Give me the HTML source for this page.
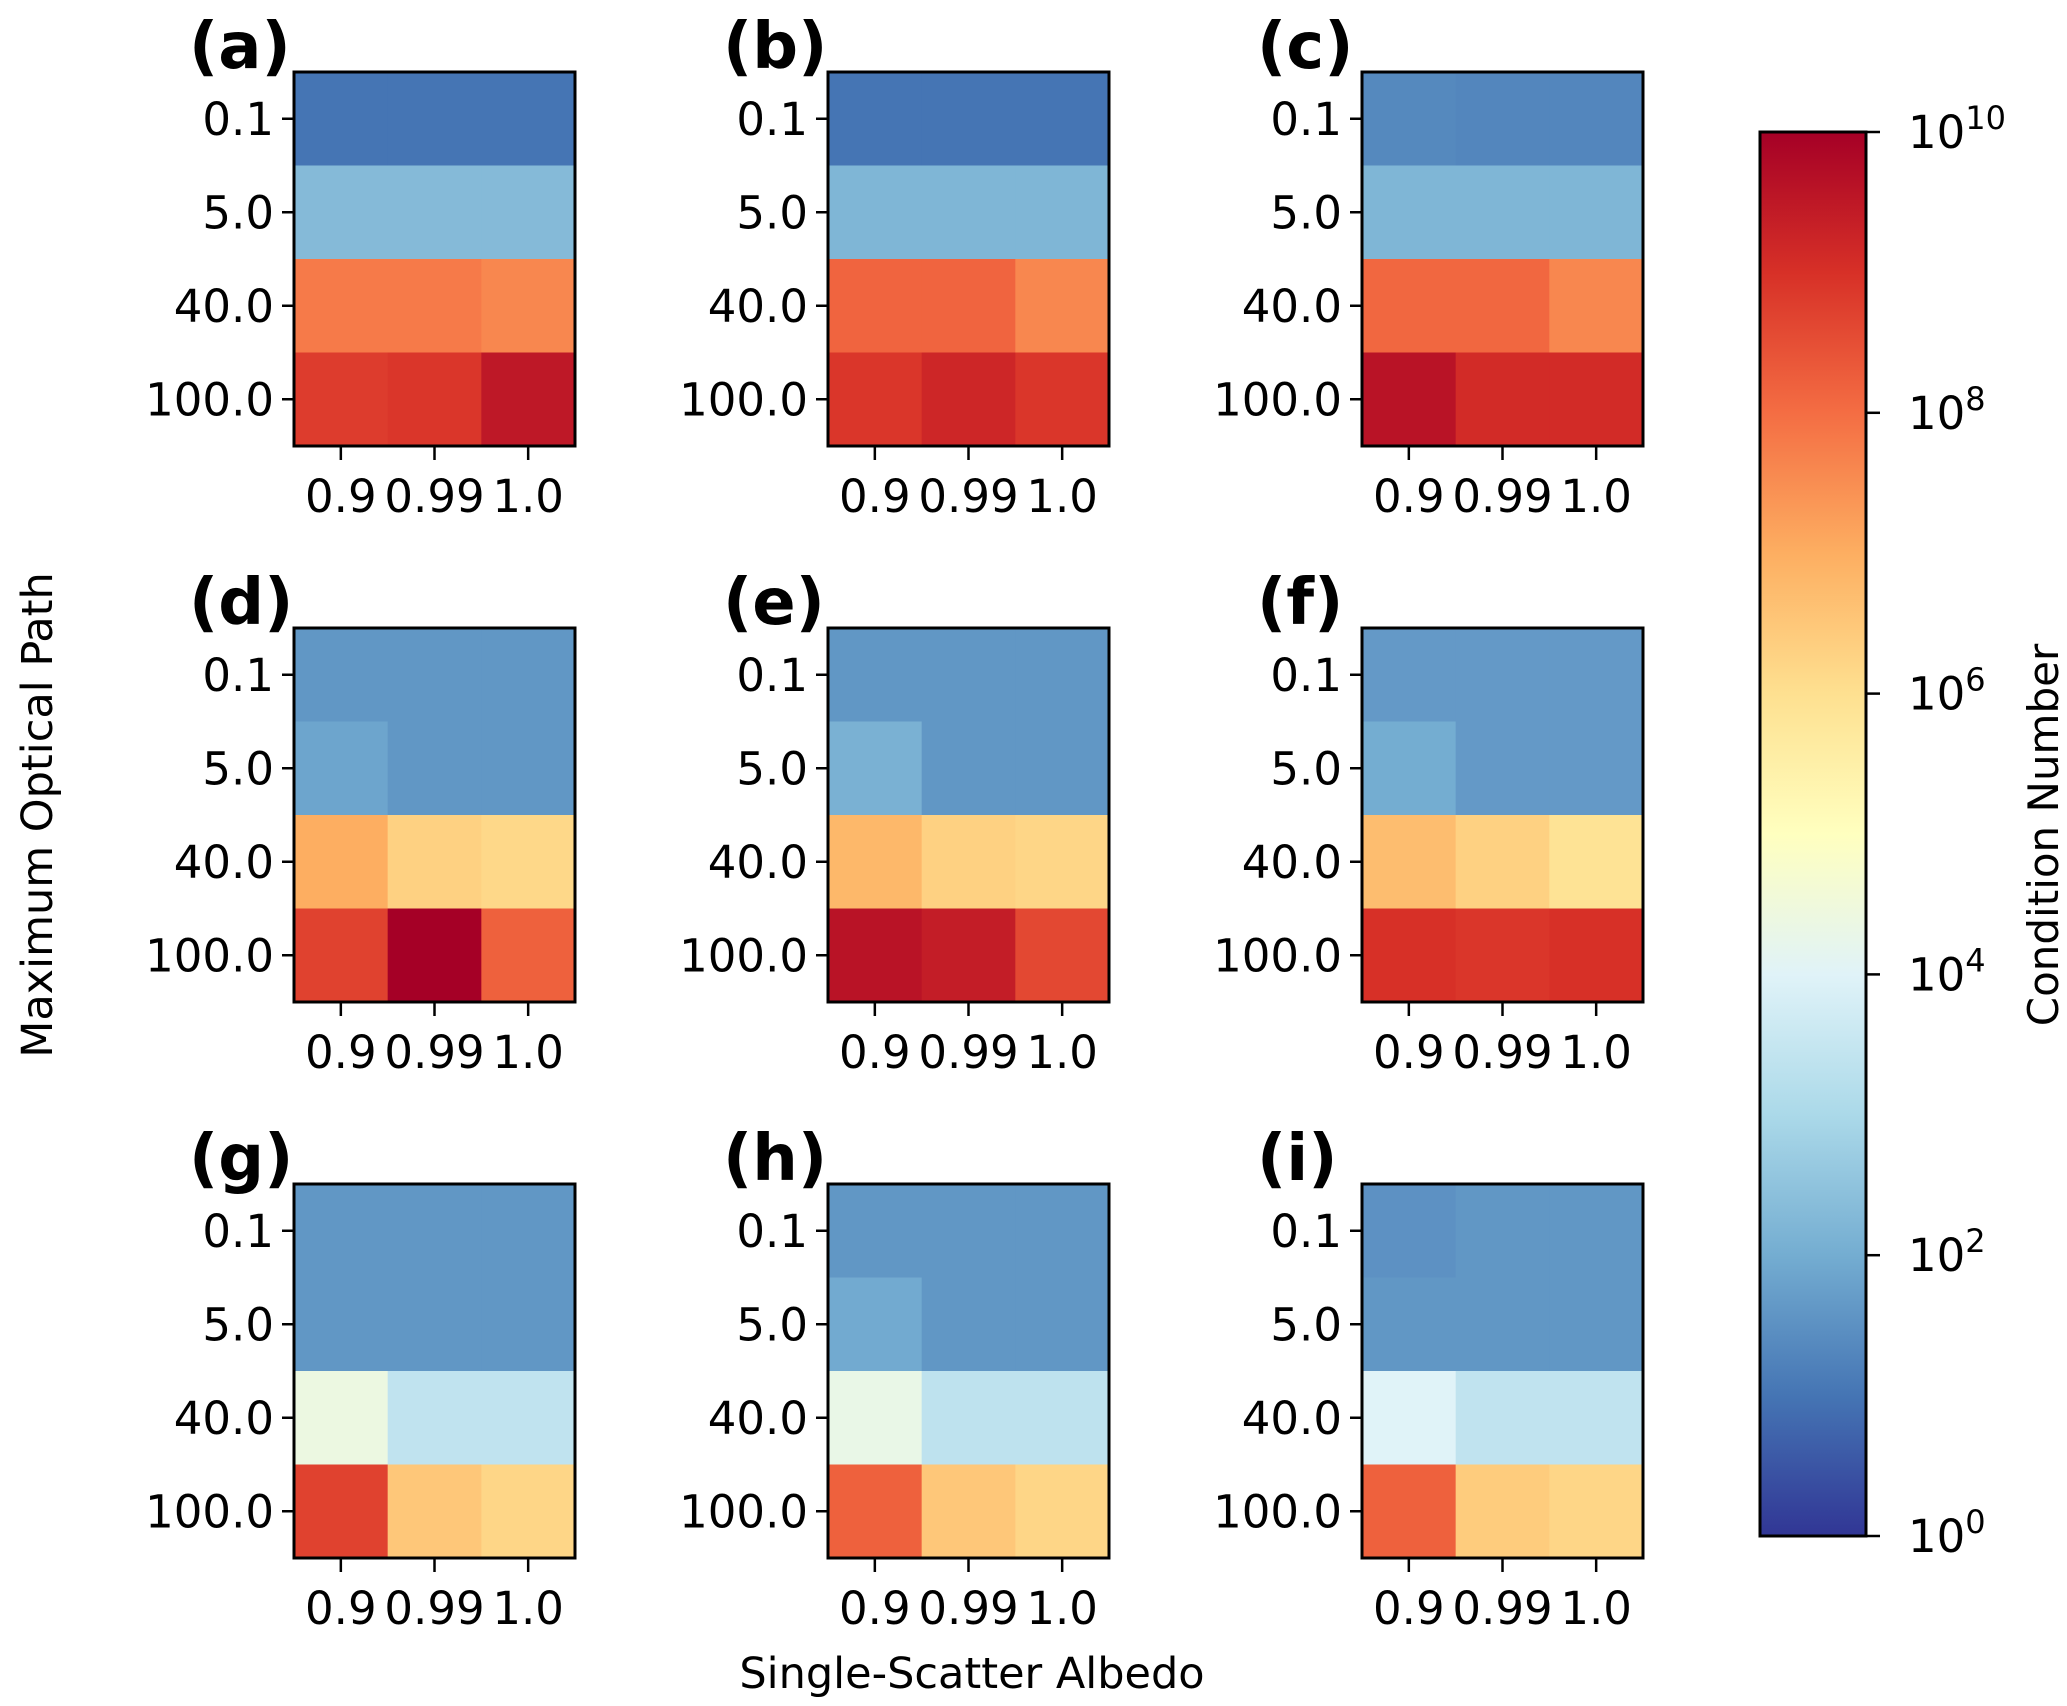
<!DOCTYPE html>
<html><head><meta charset="utf-8"><style>
html,body{margin:0;padding:0;background:#fff;}
svg{display:block;font-family:"DejaVu Sans","Liberation Sans",sans-serif;}
</style></head><body>
<svg id="chart" width="2067" height="1706" viewBox="0 0 2067 1706" xmlns="http://www.w3.org/2000/svg">
<defs>
<linearGradient id="cbgrad" x1="0" y1="1" x2="0" y2="0">
<stop offset="0" stop-color="#313695"/><stop offset="0.1" stop-color="#4575b4"/><stop offset="0.2" stop-color="#74add1"/><stop offset="0.3" stop-color="#abd9e9"/><stop offset="0.4" stop-color="#e0f3f8"/><stop offset="0.5" stop-color="#ffffbf"/><stop offset="0.6" stop-color="#fee090"/><stop offset="0.7" stop-color="#fdae61"/><stop offset="0.8" stop-color="#f46d43"/><stop offset="0.9" stop-color="#d73027"/><stop offset="1" stop-color="#a50026"/>
</linearGradient>
</defs>
</svg>
<script>
// log10(condition number) per panel, rows: 0.1, 5.0, 40.0, 100.0; cols: 0.9, 0.99, 1.0
const panelLabels = ['(a)','(b)','(c)','(d)','(e)','(f)','(g)','(h)','(i)'];
const rowLabels = ['0.1','5.0','40.0','100.0'];
const colLabels = ['0.9','0.99','1.0'];
const valuesA = [[1.0,1.0,1.0],[2.3,2.3,2.3],[7.8,7.8,7.6],[8.8,8.9,9.5]];
const valuesB = [[1.0,1.0,1.0],[2.2,2.2,2.2],[8.15,8.15,7.6],[8.9,9.2,8.9]];
const valuesC = [[1.35,1.3,1.3],[2.2,2.2,2.2],[8.1,8.1,7.6],[9.6,9.1,9.1]];
const valuesD = [[1.6,1.6,1.6],[1.85,1.6,1.6],[7.0,6.3,6.15],[8.7,10.0,8.2]];
const valuesE = [[1.6,1.6,1.6],[2.1,1.6,1.6],[6.8,6.3,6.2],[9.6,9.4,8.6]];
const valuesF = [[1.65,1.65,1.65],[2.0,1.65,1.65],[6.7,6.3,5.9],[9.0,8.9,9.0]];
const valuesG = [[1.6,1.6,1.6],[1.6,1.6,1.6],[4.4,3.4,3.4],[8.7,6.5,6.2]];
const valuesH = [[1.6,1.6,1.6],[1.95,1.6,1.6],[4.3,3.35,3.35],[8.2,6.5,6.2]];
const valuesI = [[1.5,1.6,1.6],[1.6,1.6,1.6],[4.0,3.4,3.4],[8.2,6.4,6.2]];
const cbTicks = [0,2,4,6,8,10];
const cbExps = ['0','2','4','6','8','10'];

const allValues=[valuesA,valuesB,valuesC,valuesD,valuesE,valuesF,valuesG,valuesH,valuesI];
const stops=['#313695','#4575b4','#74add1','#abd9e9','#e0f3f8','#ffffbf','#fee090','#fdae61','#f46d43','#d73027','#a50026'];
function hex(h){return [1,3,5].map(i=>parseInt(h.substr(i,2),16));}
function cmap(v){let t=Math.max(0,Math.min(1,v/10))*10;let i=Math.min(9,Math.floor(t));let f=t-i;
 const a=hex(stops[i]),b=hex(stops[i+1]);return 'rgb('+a.map((x,k)=>Math.round(x+(b[k]-x)*f)).join(',')+')';}
const NS='http://www.w3.org/2000/svg';
const svg=document.getElementById('chart');
function el(tag,attrs,parent){const e=document.createElementNS(NS,tag);for(const k in attrs)e.setAttribute(k,attrs[k]);(parent||svg).appendChild(e);return e;}
const colX=[294,828,1362], rowY=[72,628,1184], PW=281, PH=374;
allValues.forEach((vals,p)=>{
 const x0=colX[p%3], y0=rowY[Math.floor(p/3)];
 const g=el('g',{});
 
 
 const cw=PW/colLabels.length, rh=PH/rowLabels.length;
 const xS=c=>x0+c*cw, yS=r=>y0+r*rh;
 vals.forEach((row,r)=>row.forEach((v,c)=>{
  const cell=el('rect',{x:xS(c),y:yS(r),width:cw+0.5,height:rh+0.5,fill:cmap(v)},g);
  
  
 }));
 const fr=el('rect',{x:x0,y:y0,width:PW,height:PH,fill:'none',stroke:'#000','stroke-width':3},g);
 
 
 rowLabels.forEach((l,r)=>{
  const yy=yS(r)+rh/2;
  el('line',{x1:x0-12,x2:x0,y1:yy,y2:yy,stroke:'#000','stroke-width':2.5},g);
  const t=el('text',{x:x0-20,y:yy+16,'text-anchor':'end','font-size':45,fill:'#000'},g);
  t.textContent=l;
  
  
 });
 colLabels.forEach((l,c)=>{
  const xx=xS(c)+cw/2;
  el('line',{x1:xx,x2:xx,y1:y0+PH,y2:y0+PH+14,stroke:'#000','stroke-width':2.5},g);
  const t=el('text',{x:xx,y:y0+PH+66,'text-anchor':'middle','font-size':45,fill:'#000'},g);
  t.textContent=l;
  
  
 });
 const pl=el('text',{x:x0-105,y:y0-4,'font-size':64,'font-weight':'bold',fill:'#000'},g);
 pl.textContent=panelLabels[p];
 
 
});
// colorbar
const cbX=1760, cbY=132, cbW=106, cbH=1404;
const cb=el('rect',{x:cbX,y:cbY,width:cbW,height:cbH,fill:'url(#cbgrad)',stroke:'#000','stroke-width':3});


const cbS=v=>cbY+cbH-(v/10)*cbH;
cbTicks.forEach((v,i)=>{
 const yy=cbS(v);
 el('line',{x1:cbX+cbW,x2:cbX+cbW+14,y1:yy,y2:yy,stroke:'#000','stroke-width':2.5});
 const t=el('text',{x:cbX+cbW+42,y:yy+16,'font-size':45,fill:'#000'});
 
 
 t.textContent='10';
 const s=el('tspan',{dy:-19,'font-size':32},t);s.textContent=cbExps[i];
});
const cbl=el('text',{x:2058,y:835,'text-anchor':'middle','font-size':42,fill:'#000',transform:'rotate(-90 2058 835)'});
cbl.textContent='Condition Number';


const yl=el('text',{x:52,y:815,'text-anchor':'middle','font-size':43,fill:'#000',transform:'rotate(-90 52 815)'});
yl.textContent='Maximum Optical Path';


const xl=el('text',{x:972,y:1688,'text-anchor':'middle','font-size':43,fill:'#000'});
xl.textContent='Single-Scatter Albedo';


</script>
</body></html>
